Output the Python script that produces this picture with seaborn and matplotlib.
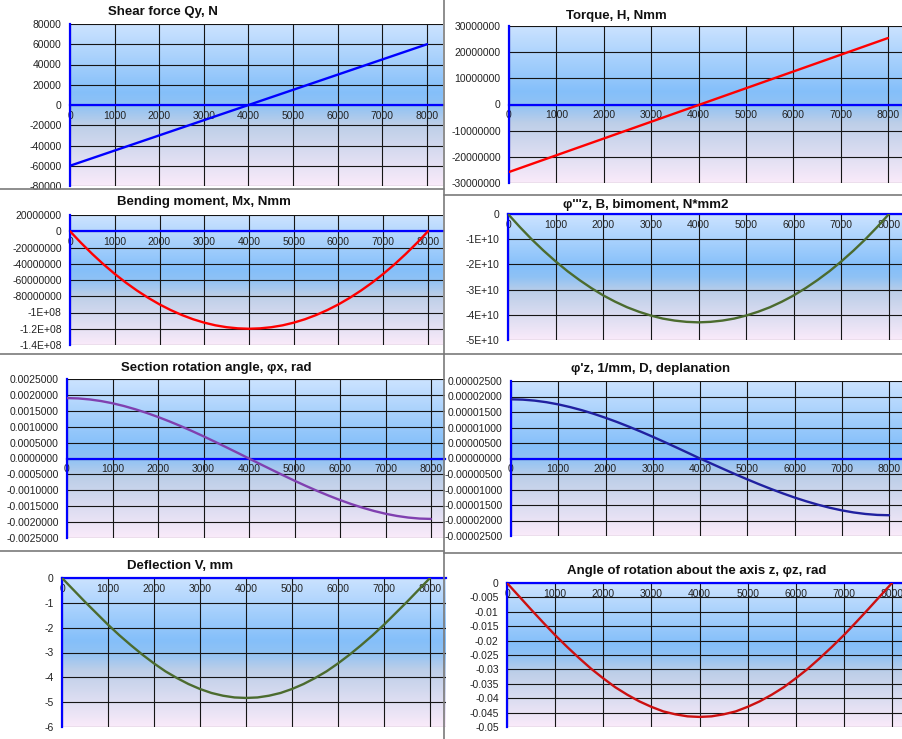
import numpy as np
import matplotlib
matplotlib.use('Agg')
import matplotlib.pyplot as plt
from matplotlib.lines import Line2D
import seaborn as sns

sns.set_style('white')
plt.rcParams['font.family'] = ['Liberation Sans', 'DejaVu Sans']

W, H = 902, 739

# ── Data ──────────────────────────────────────────────────────────────────────
# straight lines: read every 1000 mm
x_lin = [0, 1000, 2000, 3000, 4000, 5000, 6000, 7000, 8000]
# curves: read every 250 mm
x_mm = [0, 250, 500, 750, 1000, 1250, 1500, 1750, 2000, 2250, 2500, 2750, 3000,
        3250, 3500, 3750, 4000, 4250, 4500, 4750, 5000, 5250, 5500, 5750, 6000,
        6250, 6500, 6750, 7000, 7250, 7500, 7750, 8000]
x_ticks = [0, 1000, 2000, 3000, 4000, 5000, 6000, 7000, 8000]

shear = [-60000, -45000, -30000, -15000, 0, 15000, 30000, 45000, 60000]
torque = [-25.8e6, -19.4e6, -13.0e6, -6.6e6, -0.2e6, 6.2e6, 12.6e6, 19.0e6, 25.4e6]

bending = [0, -14.5e6, -28.1e6, -40.8e6, -52.5e6, -63.3e6, -73.1e6, -82.0e6, -90.0e6,
           -97.0e6, -103.1e6, -108.3e6, -112.5e6, -115.8e6, -118.1e6, -119.5e6, -120.0e6,
           -119.5e6, -118.1e6, -115.8e6, -112.5e6, -108.3e6, -103.1e6, -97.0e6, -90.0e6,
           -82.0e6, -73.1e6, -63.3e6, -52.5e6, -40.8e6, -28.1e6, -14.5e6, 0]
bimoment = [0, -0.52e10, -1.01e10, -1.46e10, -1.88e10, -2.27e10, -2.62e10, -2.94e10, -3.23e10,
            -3.48e10, -3.70e10, -3.88e10, -4.03e10, -4.15e10, -4.23e10, -4.28e10, -4.30e10,
            -4.28e10, -4.23e10, -4.15e10, -4.03e10, -3.88e10, -3.70e10, -3.48e10, -3.23e10,
            -2.94e10, -2.62e10, -2.27e10, -1.88e10, -1.46e10, -1.01e10, -0.52e10, 0]
rotation = [0.001900, 0.001889, 0.001857, 0.001806, 0.001737, 0.001651, 0.001549, 0.001434,
            0.001306, 0.001167, 0.001019, 0.000862, 0.000698, 0.000528, 0.000354, 0.000178, 0,
            -0.000178, -0.000354, -0.000528, -0.000698, -0.000862, -0.001019, -0.001167,
            -0.001306, -0.001434, -0.001549, -0.001651, -0.001737, -0.001806, -0.001857,
            -0.001889, -0.001900]
deplanation = [1.910e-5, 1.899e-5, 1.867e-5, 1.816e-5, 1.746e-5, 1.659e-5, 1.558e-5, 1.442e-5,
               1.313e-5, 1.174e-5, 1.024e-5, 0.866e-5, 0.701e-5, 0.531e-5, 0.356e-5, 0.179e-5, 0,
               -0.171e-5, -0.341e-5, -0.509e-5, -0.672e-5, -0.830e-5, -0.981e-5, -1.124e-5,
               -1.258e-5, -1.381e-5, -1.492e-5, -1.590e-5, -1.673e-5, -1.740e-5, -1.789e-5,
               -1.820e-5, -1.830e-5]
deflection = [0, -0.48, -0.96, -1.42, -1.88, -2.31, -2.71, -3.09, -3.44, -3.76, -4.03, -4.27,
              -4.47, -4.63, -4.74, -4.81, -4.83, -4.81, -4.74, -4.63, -4.47, -4.27, -4.03,
              -3.76, -3.44, -3.09, -2.71, -2.31, -1.88, -1.42, -0.96, -0.48, 0]
angle_z = [0, -0.0046, -0.0092, -0.0137, -0.0181, -0.0222, -0.0261, -0.0298, -0.0331,
           -0.0362, -0.0388, -0.0411, -0.0430, -0.0446, -0.0456, -0.0463, -0.0465,
           -0.0463, -0.0456, -0.0446, -0.0430, -0.0411, -0.0388, -0.0362, -0.0331,
           -0.0298, -0.0261, -0.0222, -0.0181, -0.0137, -0.0092, -0.0046, 0]

shear_ticks = [80000, 60000, 40000, 20000, 0, -20000, -40000, -60000, -80000]
shear_labels = ['80000', '60000', '40000', '20000', '0', '-20000', '-40000', '-60000', '-80000']
torque_ticks = [30e6, 20e6, 10e6, 0, -10e6, -20e6, -30e6]
torque_labels = ['30000000', '20000000', '10000000', '0', '-10000000', '-20000000', '-30000000']
bending_ticks = [20e6, 0, -20e6, -40e6, -60e6, -80e6, -100e6, -120e6, -140e6]
bending_labels = ['20000000', '0', '-20000000', '-40000000', '-60000000', '-80000000',
                  '-1E+08', '-1.2E+08', '-1.4E+08']
bimoment_ticks = [0, -1e10, -2e10, -3e10, -4e10, -5e10]
bimoment_labels = ['0', '-1E+10', '-2E+10', '-3E+10', '-4E+10', '-5E+10']
rotation_ticks = [0.0025, 0.002, 0.0015, 0.001, 0.0005, 0, -0.0005, -0.001, -0.0015, -0.002, -0.0025]
rotation_labels = ['0.0025000', '0.0020000', '0.0015000', '0.0010000', '0.0005000', '0.0000000',
                   '-0.0005000', '-0.0010000', '-0.0015000', '-0.0020000', '-0.0025000']
deplan_ticks = [2.5e-5, 2e-5, 1.5e-5, 1e-5, 0.5e-5, 0, -0.5e-5, -1e-5, -1.5e-5, -2e-5, -2.5e-5]
deplan_labels = ['0.00002500', '0.00002000', '0.00001500', '0.00001000', '0.00000500', '0.00000000',
                 '-0.00000500', '-0.00001000', '-0.00001500', '-0.00002000', '-0.00002500']
deflection_ticks = [0, -1, -2, -3, -4, -5, -6]
deflection_labels = ['0', '-1', '-2', '-3', '-4', '-5', '-6']
angle_ticks = [0, -0.005, -0.01, -0.015, -0.02, -0.025, -0.03, -0.035, -0.04, -0.045, -0.05]
angle_labels = ['0', '-0.005', '-0.01', '-0.015', '-0.02', '-0.025', '-0.03', '-0.035',
                '-0.04', '-0.045', '-0.05']

# ── Layout (pixels): x of 0, x of 8000, right edge, top, bottom, title centre ─
panels = [
    ('Shear force Qy, N', x_lin, shear, shear_ticks, shear_labels, '#0000FF',
     (70, 427, 443, 24, 186), (163, 12)),
    ('Torque, H, Nmm', x_lin, torque, torque_ticks, torque_labels, '#FF0000',
     (509, 888, 902, 26, 183), (616, 16)),
    ('Bending moment, Mx, Nmm', x_mm, bending, bending_ticks, bending_labels, '#FF0000',
     (70, 428, 443, 215, 345), (204, 202)),
    ("φ'''z, B, bimoment, N*mm2", x_mm, bimoment, bimoment_ticks, bimoment_labels, '#4B6B2E',
     (508, 889, 902, 214, 340), (646, 205)),
    ('Section rotation angle, φx, rad', x_mm, rotation, rotation_ticks, rotation_labels, '#8040B0',
     (67, 431, 445, 379, 538), (216, 368)),
    ("φ'z, 1/mm, D, deplanation", x_mm, deplanation, deplan_ticks, deplan_labels, '#2020A0',
     (511, 889, 902, 381, 536), (651, 369)),
    ('Deflection V, mm', x_mm, deflection, deflection_ticks, deflection_labels, '#4B6B2E',
     (62, 430, 446, 578, 727), (180, 566)),
    ('Angle of rotation about the axis z, φz, rad', x_mm, angle_z, angle_ticks, angle_labels,
     '#CC1010', (507, 892, 902, 583, 727), (697, 571)),
]

# Excel-like plot area gradient
stops = [0.0, 0.42, 0.50, 0.62, 1.0]
cols = np.array([[0.80, 0.89, 1.00],
                 [0.52, 0.75, 0.98],
                 [0.56, 0.76, 0.96],
                 [0.74, 0.81, 0.91],
                 [0.98, 0.92, 0.98]])
t = np.linspace(0, 1, 256)
grad = np.stack([np.interp(t, stops, cols[:, c]) for c in range(3)], axis=-1)[:, None, :]

fig = plt.figure(figsize=(W / 100, H / 100), dpi=100)
fig.patch.set_facecolor('white')

for title, xs, vals, yt, yl, color, (x0, x8, xr, top, bot), (tx, ty) in panels:
    ax = fig.add_axes([x0 / W, 1 - bot / H, (xr - x0) / W, (bot - top) / H])
    ax.imshow(grad, extent=[0, 1, 0, 1], transform=ax.transAxes,
              aspect='auto', zorder=0, interpolation='bilinear')
    sns.lineplot(x=xs, y=vals, ax=ax, color=color, linewidth=1.7, zorder=4)
    ax.set_xlim(0, 8000 * (xr - x0) / (x8 - x0))
    ax.set_ylim(min(yt), max(yt))
    ax.set_axisbelow(True)
    ax.set_xlabel('')
    ax.set_ylabel('')
    for s in ['top', 'right']:
        ax.spines[s].set_visible(False)
    ax.spines['bottom'].set_position(('data', 0))
    ax.spines['bottom'].set_color('#0000FF')
    ax.spines['bottom'].set_linewidth(1.6)
    ax.spines['left'].set_color('#0000FF')
    ax.spines['left'].set_linewidth(1.6)
    ax.set_xticks(x_ticks)
    ax.set_xticklabels([str(v) for v in x_ticks])
    ax.set_yticks(yt)
    ax.set_yticklabels(yl)
    ax.grid(True, color='#151515', linewidth=0.8)
    ax.tick_params(axis='x', direction='inout', length=5, width=1.3, color='#0000FF',
                   pad=1.5, labelcolor='#222222', labelsize=7.5)
    ax.tick_params(axis='y', direction='out', length=3, width=1.3, color='#0000FF',
                   pad=3, labelcolor='#222222', labelsize=7.5)
    fig.text(tx / W, 1 - ty / H, title, ha='center', va='center',
             fontsize=9.5, fontweight='bold', color='#111111')

# separators between the pasted charts
def sep(x1, y1, x2, y2):
    fig.add_artist(Line2D([x1 / W, x2 / W], [1 - y1 / H, 1 - y2 / H],
                          transform=fig.transFigure, color='#7a7a7a', linewidth=1.2))

sep(444, 0, 444, H)
for y in [189, 354, 551]:
    sep(0, y, 444, y)
for y in [195, 354, 553]:
    sep(444, y, W, y)

fig.savefig('out.png', dpi=100, facecolor='white')
